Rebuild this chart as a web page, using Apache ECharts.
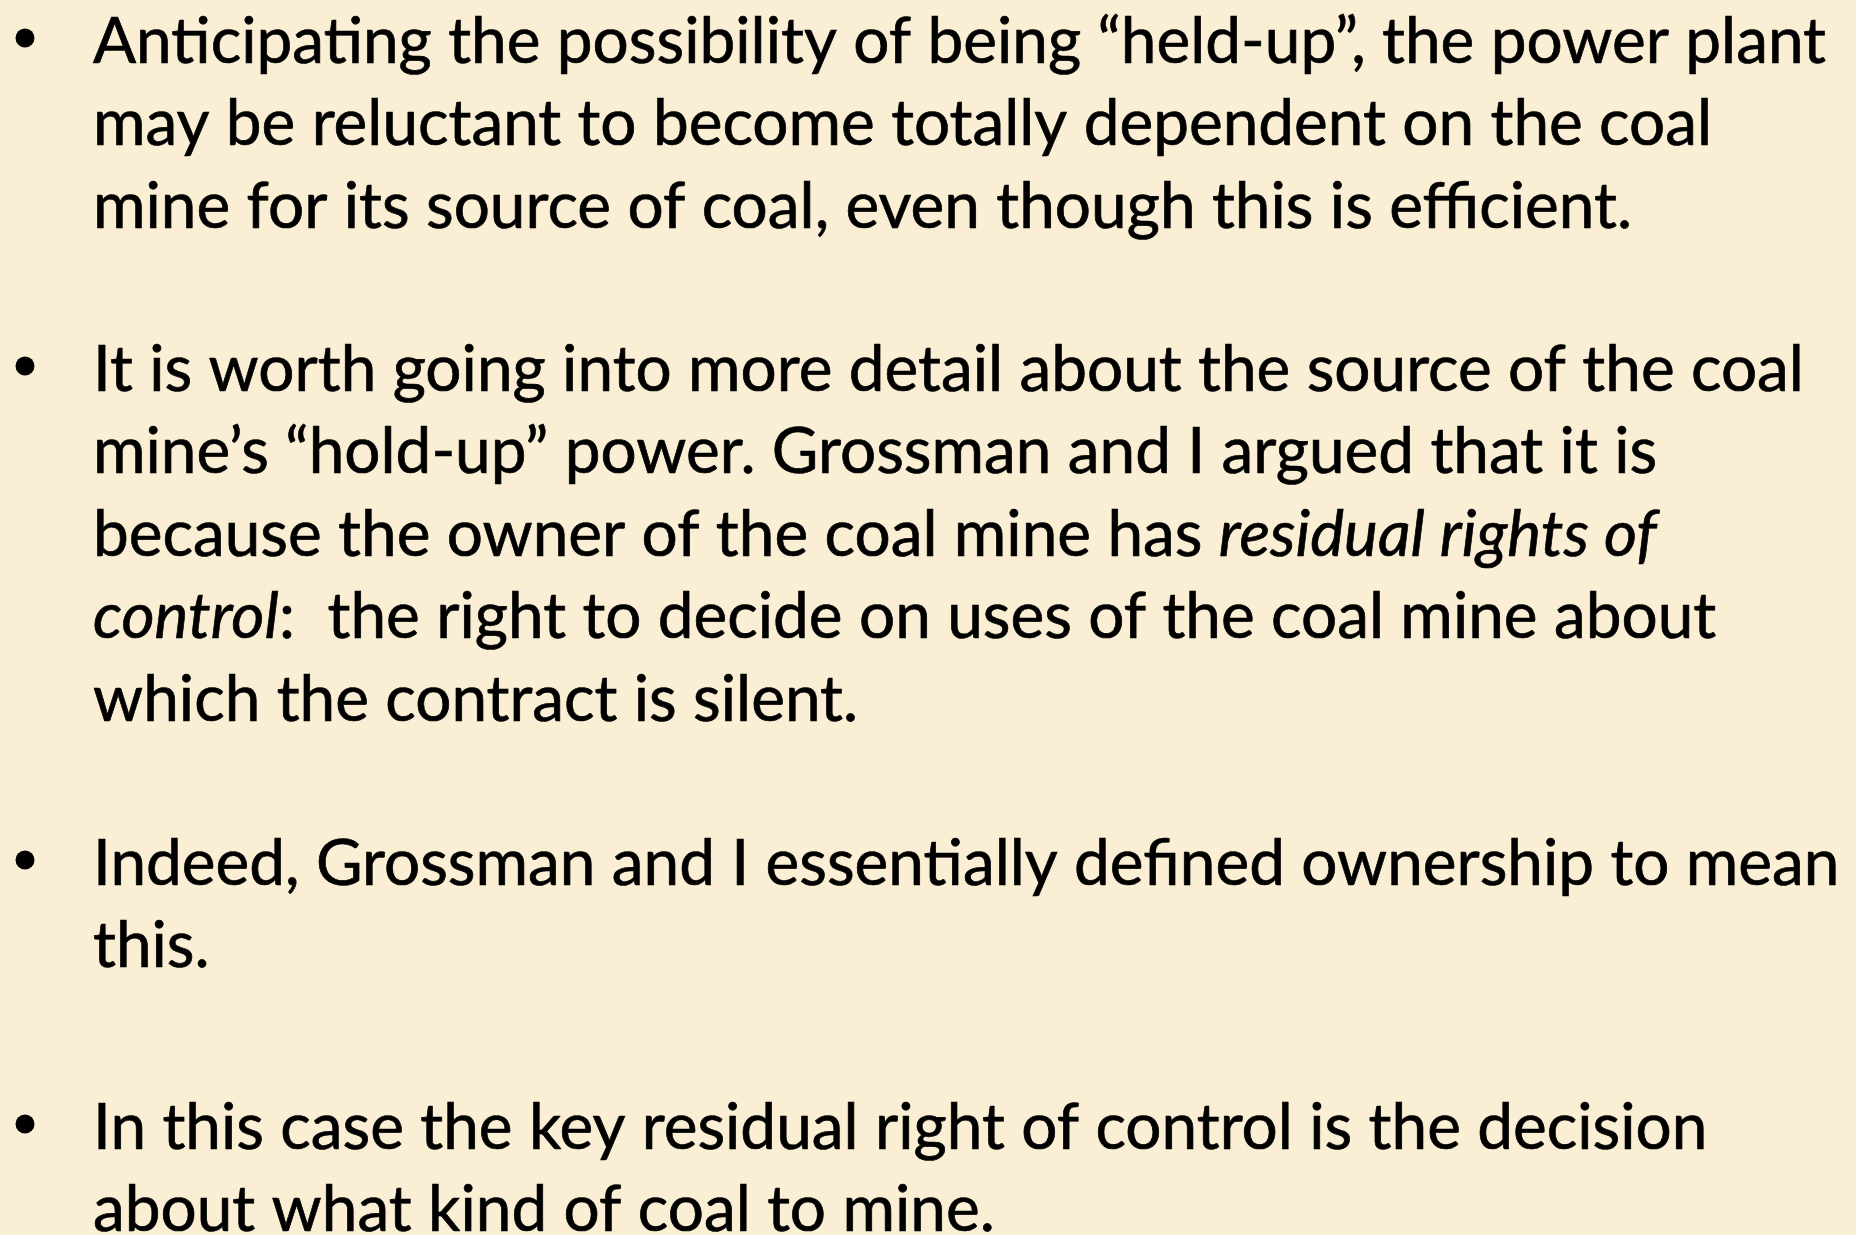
<!DOCTYPE html>
<html>
<head>
<meta charset="utf-8">
<script src="https://cdn.jsdelivr.net/npm/echarts@6/dist/echarts.min.js"></script>
<style>
html,body{margin:0;padding:0;background:#FAEFD3;}
#chart{width:1856px;height:1235px;}
</style>
</head>
<body>
<div id="chart"></div>
<script>
// ---- slide content (bullet paragraphs, {i|...} marks italic) ----
var bullet1 = [
  "Anticipating the possibility of being \u201Cheld-up\u201D, the power plant",
  "may be reluctant to become totally dependent on the coal",
  "mine for its source of coal, even though this is efficient."
];
var bullet2 = [
  "It is worth going into more detail about the source of the coal",
  "mine\u2019s \u201Chold-up\u201D power. Grossman and I argued that it is",
  "because the owner of the coal mine has {i|residual rights of}",
  "{i|control}:  the right to decide on uses of the coal mine about",
  "which the contract is silent."
];
var bullet3 = [
  "Indeed, Grossman and I essentially defined ownership to mean",
  "this."
];
var bullet4 = [
  "In this case the key residual right of control is the decision",
  "about what kind of coal to mine."
];
var paragraphs = [bullet1, bullet2, bullet3, bullet4];

// ---- layout ----
var W = 1856, H = 1235;
var FONT_FAMILY = 'Lato, "Open Sans", sans-serif';
var FS = 64;
var LINE_H = 82.5;
var TEXT_X = 93;
var BULLET_X = 25;
var paraBaselines = [61, 389, 883, 1147];
var targetLine1Width = 1733;

var cv = document.createElement('canvas').getContext('2d');
cv.font = FS + 'px ' + FONT_FAMILY;
var measured = cv.measureText(bullet1[0]).width;
var SX = targetLine1Width / measured;

var elements = [];
elements.push({type:'rect', shape:{x:0,y:0,width:W,height:H}, style:{fill:'#FAEFD4'}, z:0, silent:true});

paragraphs.forEach(function(lines, p){
  var b0 = paraBaselines[p];
  elements.push({
    type:'circle', shape:{cx:BULLET_X, cy:b0 - 23, r:9.5},
    style:{fill:'#000'}, z:2
  });
  lines.forEach(function(line, i){
    var base = b0 + i * LINE_H;
    elements.push({
      type:'text', x:TEXT_X, y:base - 0.387*FS + 6, scaleX:SX, z:2,
      style:{
        text: line,
        x:0, y:0,
        fill:'#000',
        stroke:'#000',
        lineWidth:0.7,
        fontSize: FS,
        fontFamily: FONT_FAMILY,
        align:'left',
        verticalAlign:'middle',
        rich:{
          i:{fontStyle:'italic', fontSize:FS, fontFamily:FONT_FAMILY, fill:'#000', stroke:'#000', lineWidth:0.7}
        }
      }
    });
  });
});

var chart = echarts.init(document.getElementById('chart'), null, {renderer:'canvas', width:W, height:H});
chart.setOption({
  backgroundColor:'#FAEFD4',
  animation:false,
  graphic:{elements:elements}
});
</script>
</body>
</html>
